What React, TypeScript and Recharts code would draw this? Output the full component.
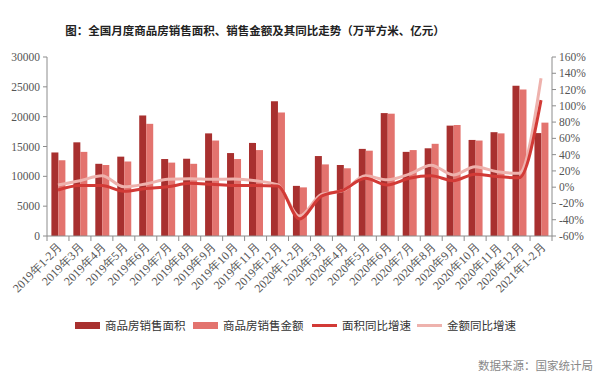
import React from 'react';
import { ComposedChart, Bar, Line, XAxis, YAxis } from 'recharts';

// categories (23 periods)
const months = [
  '2019年1-2月', '2019年3月', '2019年4月', '2019年5月', '2019年6月', '2019年7月',
  '2019年8月', '2019年9月', '2019年10月', '2019年11月', '2019年12月',
  '2020年1-2月', '2020年3月', '2020年4月', '2020年5月', '2020年6月', '2020年7月',
  '2020年8月', '2020年9月', '2020年10月', '2020年11月', '2020年12月',
  '2021年1-2月',
];

// 商品房销售面积 (万平方米)
const salesArea = [
  14000, 15700, 12100, 13300, 20200, 12900, 12950, 17200, 13900, 15600, 22600,
  8400, 13400, 11900, 14600, 20600, 14100, 14700, 18500, 16100, 17400, 25200,
  17250,
];

// 商品房销售金额 (亿元)
const salesAmount = [
  12700, 14100, 11900, 12500, 18800, 12300, 12100, 16000, 12900, 14400, 20700,
  8150, 12000, 11350, 14300, 20500, 14400, 15450, 18600, 16000, 17200, 24550,
  19000,
];

// 同比增速 (%)
const areaYoY = [
  -3.5, 2, 2, -5, -1.5, 0.5, 4.7, 3.5, 2, 2, 1.5,
  -39, -11, -3.5, 11, 2.7, 11, 14, 8, 16, 13, 11.5,
  107,
];
const amountYoY = [
  2.7, 8, 14, 0.5, 4, 9.7, 10.5, 9.7, 10, 7.8, 3,
  -35.5, -9, -4, 14, 9, 16, 27, 15, 25, 19, 17,
  134,
];

const leftTicks = [0, 5000, 10000, 15000, 20000, 25000, 30000];
const rightTicks = [-60, -40, -20, 0, 20, 40, 60, 80, 100, 120, 140, 160];

const data = months.map((m, i) => ({
  name: m,
  area: salesArea[i],
  amount: salesAmount[i],
  areaYoY: areaYoY[i],
  amountYoY: amountYoY[i],
}));

const C_AREA = '#A8302F';
const C_AMOUNT = '#E3736E';
const C_AREA_LINE = '#D23A36';
const C_AMOUNT_LINE = '#EEB2AD';
const AXIS = '#8c8c8c';
const SERIF = '"Liberation Serif", "DejaVu Serif", serif';
const SANS = '"Noto Sans CJK SC", sans-serif';

const BAND = 505 / months.length;

const XTick = (props: any) => {
  const { x, y, payload, index } = props;
  const half = BAND / 2;
  const tx = x + 5;
  const ty = y + 12;
  return (
    <g>
      <line x1={x - half} y1={y} x2={x - half} y2={y + 5} stroke={AXIS} />
      {index === months.length - 1 && (
        <line x1={x + half} y1={y} x2={x + half} y2={y + 5} stroke={AXIS} />
      )}
      <text
        x={tx}
        y={ty}
        transform={`rotate(-45, ${tx}, ${ty})`}
        textAnchor="end"
        fill="#555"
        style={{ fontFamily: SERIF, fontSize: 12 }}
      >
        {payload.value}
      </text>
    </g>
  );
};

const YTick = (props: any) => {
  const { x, y, payload, anchor, suffix } = props;
  return (
    <text
      x={x}
      y={y}
      dy="0.35em"
      textAnchor={anchor}
      fill="#555"
      style={{ fontFamily: SERIF, fontSize: 11.5 }}
    >
      {`${payload.value}${suffix}`}
    </text>
  );
};

const legendItems = [
  { label: '商品房销售面积', color: C_AREA, type: 'rect', left: 75 },
  { label: '商品房销售金额', color: C_AMOUNT, type: 'rect', left: 193 },
  { label: '面积同比增速', color: C_AREA_LINE, type: 'line', left: 312 },
  { label: '金额同比增速', color: C_AMOUNT_LINE, type: 'line', left: 417 },
];

export default function App() {
  return (
    <div style={{ position: 'absolute', left: 0, top: 0, width: 600, height: 384, background: '#fff' }}>
      <div
        style={{
          position: 'absolute', top: 22, left: 0, width: 510, textAlign: 'center',
          fontFamily: SANS, fontWeight: 700, fontSize: 11.5, color: '#222',
        }}
      >
        图：全国月度商品房销售面积、销售金额及其同比走势（万平方米、亿元）
      </div>
      <ComposedChart
        width={600}
        height={300}
        data={data}
        margin={{ top: 57, right: 0, left: 0, bottom: 0 }}
        barCategoryGap="20%"
        barGap={0}
      >
        <XAxis
          dataKey="name"
          interval={0}
          height={64}
          tickLine={false}
          tickSize={0}
          tickMargin={0}
          stroke={AXIS}
          tick={<XTick />}
        />
        <YAxis
          yAxisId="left"
          width={47}
          domain={[0, 30000]}
          ticks={leftTicks}
          interval={0}
          stroke={AXIS}
          tickSize={4}
          tickMargin={3}
          tick={<YTick anchor="end" suffix="" />}
        />
        <YAxis
          yAxisId="right"
          orientation="right"
          width={48}
          domain={[-60, 160]}
          ticks={rightTicks}
          interval={0}
          stroke={AXIS}
          tickSize={4}
          tickMargin={3}
          tick={<YTick anchor="start" suffix="%" />}
        />
        <Bar yAxisId="left" dataKey="area" fill={C_AREA} isAnimationActive={false} />
        <Bar yAxisId="left" dataKey="amount" fill={C_AMOUNT} isAnimationActive={false} />
        <Line
          yAxisId="right"
          type="monotone"
          dataKey="amountYoY"
          stroke={C_AMOUNT_LINE}
          strokeWidth={3}
          dot={false}
          isAnimationActive={false}
        />
        <Line
          yAxisId="right"
          type="monotone"
          dataKey="areaYoY"
          stroke={C_AREA_LINE}
          strokeWidth={3}
          dot={false}
          isAnimationActive={false}
        />
      </ComposedChart>
      {legendItems.map((it) => (
        <div
          key={it.label}
          style={{
            position: 'absolute', left: it.left, top: 317, height: 16,
            display: 'flex', alignItems: 'center', fontFamily: SANS, fontSize: 11.5, color: '#333',
          }}
        >
          <span
            style={{
              display: 'inline-block', width: 25, height: it.type === 'rect' ? 7 : 3,
              background: it.color, marginRight: 5,
            }}
          />
          {it.label}
        </div>
      ))}
      <div
        style={{
          position: 'absolute', left: 478, top: 357, fontFamily: SANS, fontSize: 11.5, color: '#888',
        }}
      >
        数据来源：国家统计局
      </div>
    </div>
  );
}
